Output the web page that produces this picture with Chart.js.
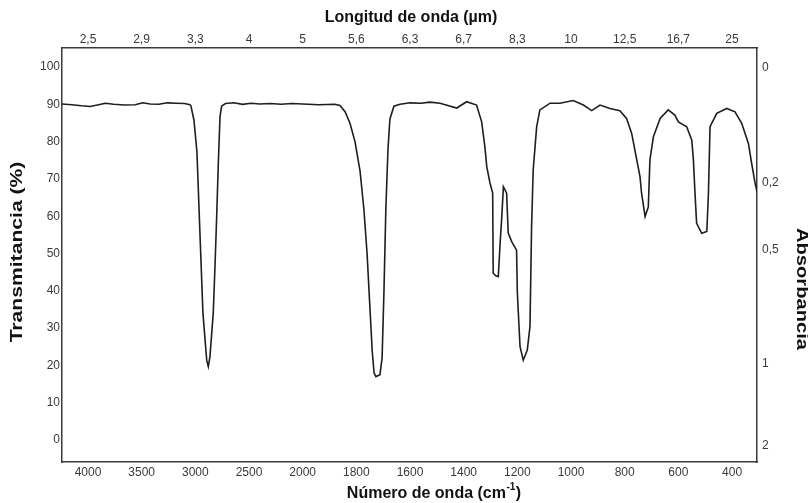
<!DOCTYPE html>
<html><head><meta charset="utf-8">
<script src="https://cdn.jsdelivr.net/npm/chart.js@4/dist/chart.umd.min.js"></script>
<style>html,body{margin:0;padding:0;background:#fff}#wrap{width:808px;height:503px;position:relative}</style>
</head><body><div id="wrap"><canvas id="c" width="808" height="503"></canvas></div>
<script>
// ---- data ----
const wavenumbers = [4242,4150,4060,3982,3900,3840,3760,3660,3560,3490,3420,3340,3260,3180,3100,3050,
  3041,3013,2985,2957,2929,2894,2879,2864,2833,2817,2801,2786,2770,2755,
  2720,2640,2560,2480,2400,2300,2200,2100,2000,1940,1880,1861,
  1842,1824,1805,1786,1772,1760,1749,1741,1734,1727,1712,1704,1697,1690,1682,1675,1660,
  1637,1600,1560,1526,1488,1426,1389,1352,1333,1321,1314,1302,1292,1290,1280,1271,1265,1258,1252,
  1240,1234,1221,1203,1200,1190,1178,1163,1153,1147,1141,1128,1116,1078,1041,992,954,923,892,855,818,
  793,774,755,743,737,724,712,706,693,668,638,613,600,569,550,544,538,532,513,494,488,482,457,420,389,
  364,339,327,314,307];
const transmittance = [90.1,89.9,89.6,89.4,89.9,90.3,90.0,89.8,89.9,90.4,90.1,90.0,90.4,90.3,90.2,89.9,
  89.6,85.8,77.3,55.5,34,21.4,19.7,22.3,34,46.4,60,74,86.7,89.5,
  90.2,90.4,90.0,90.3,90.1,90.2,90.0,90.2,90.1,89.9,90.0,89.7,
  88,85,80,72,62,50,35,24,18,17,17.5,22,40,62,78,86,89.5,
  90.0,90.4,90.3,90.6,90.3,89.0,90.7,89.8,85.3,78.6,73.3,68.9,66.2,44.7,44.0,43.8,51.8,59.9,67.9,
  66.2,55.5,53.2,50.9,39.4,25,21.4,24.1,30.4,57.2,72.4,84,88.5,90.3,90.3,91.0,89.8,88.3,89.8,88.9,88.3,
  86.2,82.2,75.1,70.6,66.1,59.9,62.5,75.1,81.3,86.2,88.5,87.1,85.3,84,80.4,75.1,66.1,58.1,55.4,55.9,66.1,84,87.6,88.9,88,
  84.9,79.5,74.2,68.8,66.6];
const wavenumberTicks = [4000,3500,3000,2500,2000,1800,1600,1400,1200,1000,800,600,400];
const wavelengthLabels = ['2,5','2,9','3,3','4','5','5,6','6,3','6,7','8,3','10','12,5','16,7','25'];
const transmittanceTicks = [0,10,20,30,40,50,60,70,80,90,100];
const absorbanceLabels = ['0','0,2','0,5','1','2'];
const absorbanceTickAt = [99.7,68.9,50.9,20.4,-1.6];

// ---- piecewise wavenumber scale (500 cm-1 steps above 2000, 200 below) ----
class IrScale extends Chart.LinearScale {
  static id = 'irwave';
  static defaults = {};
  _u(v){ return v >= 2000 ? (4000 - v) / 500 : 4 + (2000 - v) / 200; }
  _w(u){ return u <= 4 ? 4000 - u * 500 : 2000 - (u - 4) * 200; }
  buildTicks(){ return wavenumberTicks.map(v => ({value: v})); }
  getPixelForValue(v){
    const a = this._u(this.max), b = this._u(this.min);
    return this.left + (this._u(v) - a) / (b - a) * this.width;
  }
  getValueForPixel(p){
    const a = this._u(this.max), b = this._u(this.min);
    return this._w(a + (p - this.left) / this.width * (b - a));
  }
}
Chart.register(IrScale);

const FONT = "'Liberation Sans', Arial, sans-serif";
const tickFont = {family: FONT, size: 12};
const tickColor = '#3a3a3a';
const borderStyle = {display: true, color: '#3a3a3a', width: 1.5};

const titlesPlugin = {
  id: 'titles',
  afterDraw(chart){
    const ctx = chart.ctx;
    ctx.save();
    ctx.fillStyle = '#111';
    ctx.textBaseline = 'middle';
    ctx.textAlign = 'center';
    ctx.font = "bold 16px " + FONT;
    ctx.fillText('Longitud de onda (µm)', 411, 18);
    // bottom title with superscript
    const a = 'Número de onda (cm', sup = '-1', c = ')';
    ctx.font = "bold 16px " + FONT;
    const wa = ctx.measureText(a).width, wc = ctx.measureText(c).width;
    ctx.font = "bold 10px " + FONT;
    const ws = ctx.measureText(sup).width;
    const total = wa + ws + 1 + wc;
    let x0 = 434 - total / 2;
    ctx.textAlign = 'left';
    ctx.font = "bold 16px " + FONT;
    ctx.fillText(a, x0, 494);
    ctx.font = "bold 10px " + FONT;
    ctx.fillText(sup, x0 + wa + 0.5, 487);
    ctx.font = "bold 16px " + FONT;
    ctx.fillText(c, x0 + wa + ws + 1, 494);
    // vertical titles (stretched along their length like the scanned original)
    ctx.textAlign = 'center';
    ctx.save();
    ctx.translate(18, 252);
    ctx.rotate(-Math.PI / 2);
    ctx.scale(1.32, 1);
    ctx.fillText('Transmitancia (%)', 0, 0);
    ctx.restore();
    ctx.save();
    ctx.translate(801, 289);
    ctx.rotate(Math.PI / 2);
    ctx.scale(1.26, 1);
    ctx.fillText('Absorbancia', 0, 0);
    ctx.restore();
    ctx.restore();
  }
};

new Chart(document.getElementById('c'), {
  type: 'line',
  data: {
    datasets: [{
      data: wavenumbers.map((w, i) => ({x: w, y: transmittance[i]})),
      borderColor: '#1e1e1e',
      borderWidth: 1.6,
      pointRadius: 0,
      tension: 0,
      fill: false,
      xAxisID: 'x',
      yAxisID: 'y'
    }]
  },
  options: {
    responsive: false,
    animation: false,
    devicePixelRatio: 1,
    layout: {padding: 0},
    plugins: {legend: {display: false}, tooltip: {enabled: false}},
    scales: {
      x: {
        type: 'irwave', position: 'bottom', min: 307, max: 4242,
        grid: {display: false, drawTicks: false}, border: borderStyle,
        ticks: {autoSkip: false, maxRotation: 0, padding: 3, font: tickFont, color: tickColor,
          callback: (v, i) => String(wavenumberTicks[i])},
        afterFit: s => { s.height = 41; }
      },
      xTop: {
        type: 'irwave', position: 'top', min: 307, max: 4242,
        grid: {display: false, drawTicks: false}, border: borderStyle,
        ticks: {autoSkip: false, maxRotation: 0, padding: 1, font: tickFont, color: tickColor,
          callback: (v, i) => wavelengthLabels[i]},
        afterFit: s => { s.height = 48; }
      },
      y: {
        type: 'linear', position: 'left', min: -5.9, max: 105.1,
        grid: {display: false, drawTicks: false}, border: borderStyle,
        afterBuildTicks: s => { s.ticks = transmittanceTicks.map(v => ({value: v})); },
        ticks: {autoSkip: false, padding: 2, font: tickFont, color: tickColor, callback: v => String(v)},
        afterFit: s => { s.width = 62; }
      },
      yR: {
        type: 'linear', position: 'right', min: -5.9, max: 105.1,
        grid: {display: false, drawTicks: false}, border: borderStyle,
        afterBuildTicks: s => { s.ticks = absorbanceTickAt.map(v => ({value: v})); },
        ticks: {autoSkip: false, padding: 5, font: tickFont, color: tickColor,
          callback: (v, i) => absorbanceLabels[i]},
        afterFit: s => { s.width = 51; }
      }
    }
  },
  plugins: [titlesPlugin]
});
</script>
</body></html>
